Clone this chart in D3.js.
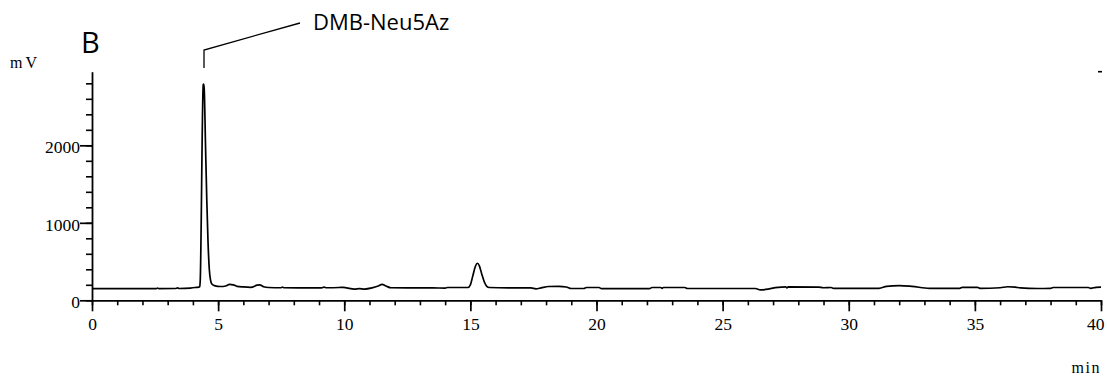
<!DOCTYPE html>
<html>
<head>
<meta charset="utf-8">
<script src="https://cdn.jsdelivr.net/npm/d3@7"></script>
<style>
  html, body { margin: 0; padding: 0; background: #fff; }
  svg { display: block; }
</style>
</head>
<body>
<svg id="chart" width="1107" height="381"></svg>
<script>
// Retention time (min) of each sample of the trace
const times = [
  0, 1, 2, 2.55, 2.6, 2.65, 3.3, 3.4, 3.45, 3.9, 4.1, 4.22, 4.27, 4.29,
  4.41, 4.43, 4.45, 4.5, 4.55, 4.6, 4.65, 4.7, 4.75, 4.85, 5.1, 5.3, 5.45, 5.6, 5.75,
  6.0, 6.3, 6.55, 6.65, 6.8, 7.0, 7.5, 7.55, 7.6, 8.5, 9.1, 9.2, 9.3, 9.8, 9.95,
  10.1, 10.4, 10.6, 10.8, 11.1, 11.35, 11.5, 11.65, 11.85, 12.5, 13.5, 14.0, 14.1,
  14.3, 14.9, 15.0, 15.1, 15.2, 15.28, 15.36, 15.45, 15.55, 15.65, 15.75, 16.5,
  17.4, 17.6, 17.8, 18.1, 18.5, 18.8, 19.0, 19.5, 19.6, 20.1, 20.2, 22.1, 22.2,
  22.55, 22.6, 22.65, 23.5, 23.6, 26.3, 26.5, 26.7, 27.2, 27.5, 27.55, 27.6, 28.8,
  29.0, 29.3, 29.4, 31.2, 31.5, 32.0, 32.5, 33.2, 34.4, 34.5, 35.1, 35.2, 36.0,
  36.3, 36.6, 36.8, 37.5, 38.0, 38.1, 39.5, 39.6, 39.8, 40.0
];
// Detector signal (mV) at each retention time
const signal = [
  150, 150, 150, 150, 158, 150, 152, 160, 152, 158, 165, 170, 175, 250,
  2780, 2790, 2720, 2000, 1300, 750, 400, 260, 210, 190, 178, 185, 205, 200, 180,
  172, 168, 195, 200, 175, 165, 162, 170, 162, 160, 160, 170, 162, 165, 168,
  160, 145, 150, 145, 160, 185, 205, 185, 162, 160, 160, 158, 165,
  165, 165, 200, 320, 440, 478, 440, 340, 240, 180, 165, 160,
  160, 148, 160, 178, 180, 172, 152, 152, 165, 165, 150, 150, 165,
  165, 155, 165, 165, 152, 152, 135, 140, 168, 172, 160, 172, 170,
  162, 165, 155, 155, 180, 190, 180, 155, 155, 168, 168, 155, 162,
  175, 170, 160, 152, 155, 165, 165, 155, 168, 170
];

const xMajorTicks = [0, 5, 10, 15, 20, 25, 30, 35, 40];
const xMinorTicks = d3.range(0, 41, 1);
const yMajorTicks = [0, 1000, 2000];
const yMinorTicks = d3.range(0, 2801, 200);

const panelLabel = "B";
const peakLabel = "DMB-Neu5Az";
const peakTime = 4.44;
const yUnit = "mV";
const xUnit = "min";

const serif = "Liberation Serif, Times New Roman, serif";
const svg = d3.select("#chart");

const x = d3.scaleLinear().domain([0, 40]).range([92, 1101]);
const y = d3.scaleLinear().domain([0, 2950]).range([300.3, 71.7]);

const styleLabels = g => g.selectAll("text")
  .attr("font-family", serif).attr("font-size", 17.5).attr("fill", "#000");

// x axis: minor ticks, then major ticks with labels
svg.append("g")
  .attr("transform", `translate(0,${y(0)})`)
  .call(d3.axisBottom(x).tickValues(xMinorTicks).tickSize(5).tickSizeOuter(0).tickFormat(""))
  .call(g => g.select(".domain").remove())
  .call(g => g.selectAll("line").attr("stroke", "#000").attr("stroke-width", 1.6));

svg.append("g")
  .attr("transform", `translate(0,${y(0)})`)
  .call(d3.axisBottom(x).tickValues(xMajorTicks).tickSize(11).tickSizeOuter(0).tickPadding(6).tickFormat(d3.format("d")))
  .call(g => g.select(".domain").attr("stroke", "#000").attr("stroke-width", 1.8))
  .call(g => g.selectAll("line").attr("stroke", "#000").attr("stroke-width", 1.7))
  .call(styleLabels)
  .call(g => g.selectAll(".tick text").filter(d => d === 40).attr("text-anchor", "end").attr("dx", 3));

// y axis
svg.append("g")
  .attr("transform", `translate(${x(0)},0)`)
  .call(d3.axisLeft(y).tickValues(yMinorTicks).tickSize(6).tickSizeOuter(0).tickFormat(""))
  .call(g => g.select(".domain").remove())
  .call(g => g.selectAll("line").attr("stroke", "#000").attr("stroke-width", 1.6));

svg.append("g")
  .attr("transform", `translate(${x(0)},0)`)
  .call(d3.axisLeft(y).tickValues(yMajorTicks).tickSize(12).tickSizeOuter(0).tickPadding(0).tickFormat(d3.format("d")))
  .call(g => g.select(".domain").attr("stroke", "#000").attr("stroke-width", 1.8))
  .call(g => g.selectAll("line").attr("stroke", "#000").attr("stroke-width", 1.7))
  .call(styleLabels)
  .call(g => g.selectAll("text").attr("dy", "0.42em"));

// short mark at the top right corner
svg.append("line")
  .attr("x1", x(40) - 3).attr("x2", x(40) + 1)
  .attr("y1", y(2950)).attr("y2", y(2950))
  .attr("stroke", "#000").attr("stroke-width", 1.6);

// chromatogram trace
const points = times.map((t, i) => [t, signal[i]]);
svg.append("path")
  .datum(points)
  .attr("fill", "none")
  .attr("stroke", "#000")
  .attr("stroke-width", 1.7)
  .attr("stroke-linejoin", "round")
  .attr("d", d3.line().x(d => x(d[0])).y(d => y(d[1])).curve(d3.curveMonotoneX));

// unit labels
svg.append("text")
  .attr("x", 10).attr("y", 68)
  .attr("font-family", serif).attr("font-size", 16)
  .attr("letter-spacing", 3)
  .text(yUnit);

svg.append("text")
  .attr("x", 1101).attr("y", 373)
  .attr("text-anchor", "end")
  .attr("font-family", serif).attr("font-size", 16)
  .attr("letter-spacing", 1.5)
  .text(xUnit);

// panel letter
svg.append("text")
  .attr("x", 81).attr("y", 53)
  .attr("font-family", "Open Sans, sans-serif").attr("font-size", 29)
  .text(panelLabel);

// peak annotation with leader line
const px = x(peakTime);
svg.append("path")
  .attr("fill", "none").attr("stroke", "#000").attr("stroke-width", 1.3)
  .attr("d", `M${px},68 L${px},50 L${px + 96},23`);

svg.append("text")
  .attr("x", 313).attr("y", 30)
  .attr("font-family", "Open Sans, sans-serif").attr("font-size", 22)
  .text(peakLabel);
</script>
</body>
</html>
